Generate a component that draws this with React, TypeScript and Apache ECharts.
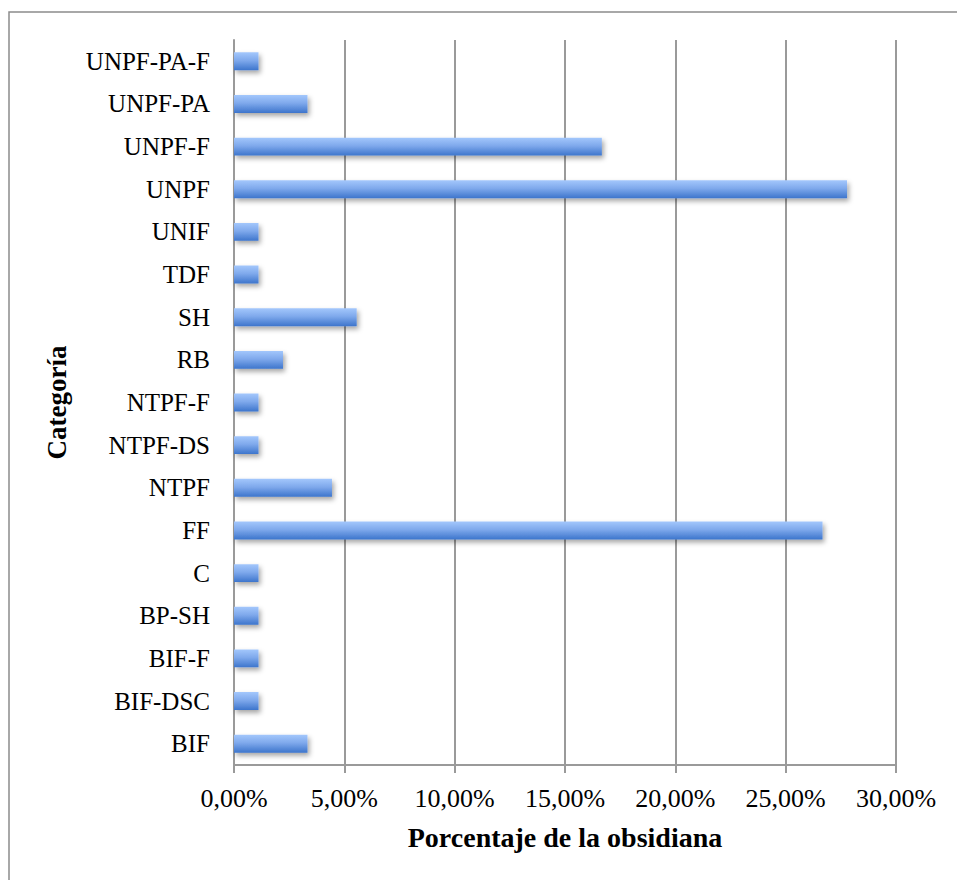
import React, { useEffect, useRef } from "react";
import * as echarts from "echarts";

// Obsidian share per category (percent of total pieces)
const categories = [
  "BIF",
  "BIF-DSC",
  "BIF-F",
  "BP-SH",
  "C",
  "FF",
  "NTPF",
  "NTPF-DS",
  "NTPF-F",
  "RB",
  "SH",
  "TDF",
  "UNIF",
  "UNPF",
  "UNPF-F",
  "UNPF-PA",
  "UNPF-PA-F",
];
const percentages = [
  3.33, 1.11, 1.11, 1.11, 1.11, 26.67, 4.44, 1.11, 1.11, 2.22, 5.56, 1.11,
  1.11, 27.78, 16.67, 3.33, 1.11,
];
const xAxisTitle = "Porcentaje de la obsidiana";
const yAxisTitle = "Categoría";

const SERIF = "'Liberation Serif', 'Times New Roman', serif";
const GRID_GRAY = "#9a9a9a";

const formatPct = (v: number) => v.toFixed(2).replace(".", ",") + "%";

export default function App() {
  const ref = useRef<HTMLDivElement>(null);

  useEffect(() => {
    document.body.style.margin = "0";
    if (!ref.current) return;
    const chart = echarts.init(ref.current, undefined, { renderer: "svg" });
    chart.setOption({
      animation: false,
      backgroundColor: "#ffffff",
      graphic: [
        {
          type: "rect",
          shape: { x: 9, y: 12, width: 1000, height: 1000 },
          style: { fill: "none", stroke: "#8c8c8c", lineWidth: 1.5 },
          silent: true,
        },
      ],
      grid: { left: 234, right: 61, top: 40, bottom: 115, containLabel: false },
      xAxis: {
        type: "value",
        min: 0,
        max: 30,
        interval: 5,
        name: xAxisTitle,
        nameLocation: "middle",
        nameGap: 58,
        nameTextStyle: {
          fontFamily: SERIF,
          fontWeight: "bold",
          fontSize: 28,
          color: "#000",
        },
        axisLine: { show: true, lineStyle: { color: GRID_GRAY, width: 2 } },
        axisTick: {
          show: true,
          length: 8,
          lineStyle: { color: GRID_GRAY, width: 2 },
        },
        splitLine: { show: true, lineStyle: { color: GRID_GRAY, width: 2 } },
        axisLabel: {
          formatter: formatPct,
          fontFamily: SERIF,
          fontSize: 26,
          color: "#000",
          margin: 20,
        },
      },
      yAxis: {
        type: "category",
        data: categories,
        name: yAxisTitle,
        nameLocation: "middle",
        nameRotate: 90,
        nameGap: 164,
        nameTextStyle: {
          fontFamily: SERIF,
          fontWeight: "bold",
          fontSize: 27,
          color: "#000",
        },
        axisLine: { show: true, lineStyle: { color: GRID_GRAY, width: 2 } },
        axisTick: { show: false },
        splitLine: { show: false },
        axisLabel: {
          fontFamily: SERIF,
          fontSize: 25,
          color: "#000",
          margin: 24,
        },
      },
      series: [
        {
          type: "bar",
          data: percentages,
          barWidth: "42%",
          itemStyle: {
            color: new echarts.graphic.LinearGradient(0, 0, 0, 1, [
              { offset: 0, color: "#a3c7fc" },
              { offset: 0.45, color: "#7fa9ec" },
              { offset: 1, color: "#3d75cc" },
            ]),
            shadowColor: "rgba(0,0,0,0.35)",
            shadowBlur: 5,
            shadowOffsetX: 2,
            shadowOffsetY: 3,
          },
        },
      ],
    });
    return () => chart.dispose();
  }, []);

  return <div ref={ref} style={{ width: 957, height: 880 }} />;
}
